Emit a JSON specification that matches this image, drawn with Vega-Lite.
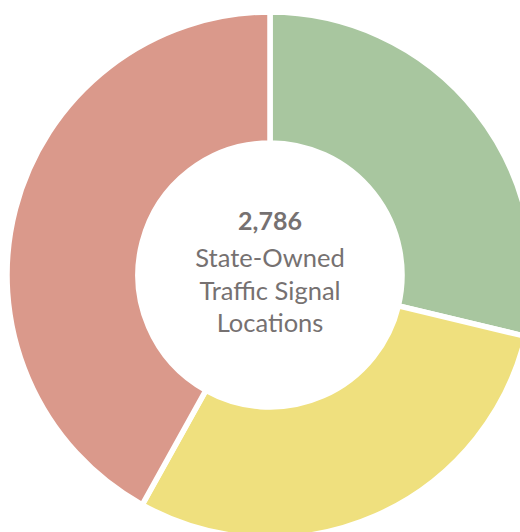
{
  "$schema": "https://vega.github.io/schema/vega-lite/v6.json",
  "width": 500,
  "height": 514,
  "autosize": {"type": "none"},
  "padding": {"left": 20, "top": 18, "right": 0, "bottom": 0},
  "background": "white",
  "view": {"stroke": null},
  "layer": [
    {
      "data": {"values": [
        {"category": "A", "k": 1, "count": 801},
        {"category": "B", "k": 2, "count": 817},
        {"category": "C", "k": 3, "count": 1168}
      ]},
      "mark": {"type": "arc", "outerRadius": 263, "innerRadius": 132, "stroke": "white", "strokeWidth": 5.5},
      "encoding": {
        "theta": {"field": "count", "type": "quantitative", "stack": true},
        "order": {"field": "k", "type": "ordinal"},
        "color": {"field": "category", "type": "nominal", "legend": null,
          "scale": {"domain": ["A", "B", "C"], "range": ["#a8c69f", "#efe07e", "#da998b"]}}
      }
    },
    {
      "data": {"values": [{"label": "2,786"}]},
      "mark": {"type": "text", "font": "Lato", "fontSize": 25, "fontWeight": "bold", "color": "#767171", "align": "center", "baseline": "alphabetic", "dy": -45},
      "encoding": {"text": {"field": "label", "type": "nominal"}}
    },
    {
      "data": {"values": [{"label": "State-Owned\nTraffic Signal\nLocations"}]},
      "mark": {"type": "text", "font": "Lato", "fontSize": 25.5, "color": "#767171", "align": "center", "baseline": "alphabetic", "dy": -8, "lineBreak": "\n", "lineHeight": 32.5},
      "encoding": {"text": {"field": "label", "type": "nominal"}}
    }
  ]
}
